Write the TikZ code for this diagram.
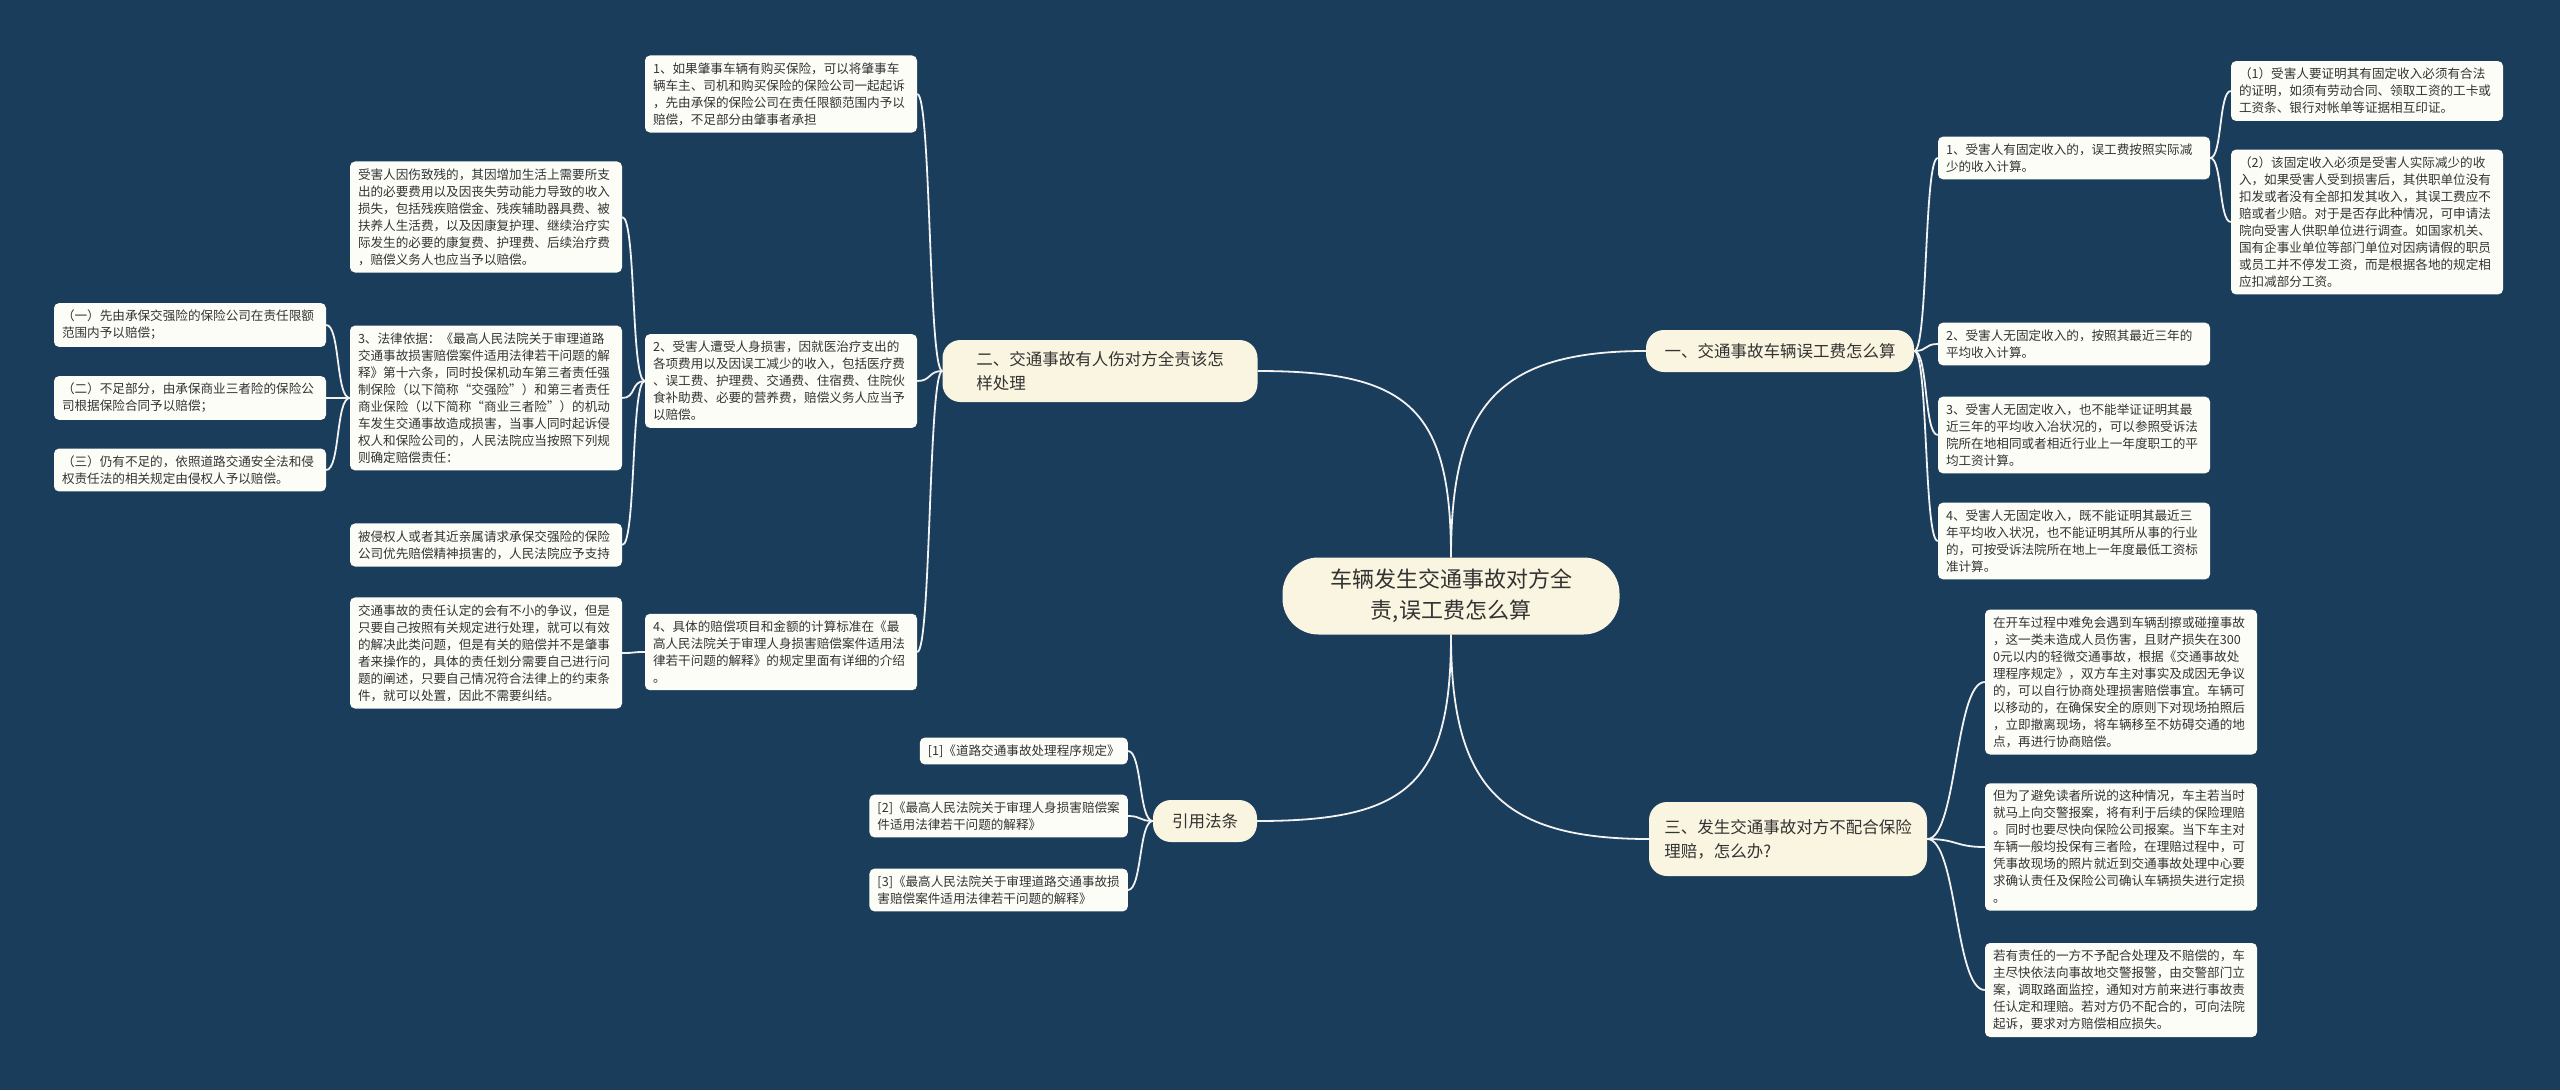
\documentclass[tikz,border=0pt]{standalone}
\usepackage{fontspec}
\setmainfont{Noto Sans CJK SC}
\usepackage{xcolor}
\definecolor{bgblue}{HTML}{1A3D5C}
\definecolor{leaffill}{HTML}{FDFDF8}
\definecolor{mainfill}{HTML}{FAF5E0}
\definecolor{inktext}{HTML}{333333}
\definecolor{linkline}{HTML}{F2F2F2}
\tikzstyle{topic} = [rectangle, rounded corners=36pt, minimum width=337pt, minimum height=77pt, align=center, fill=mainfill, text=inktext, font=\fontsize{22}{31}\selectfont]
\tikzstyle{branch} = [rectangle, rounded corners=18pt, align=left, fill=mainfill, text=inktext, font=\fontsize{16.5}{24}\selectfont]
\tikzstyle{leaf} = [rectangle, rounded corners=5pt, text width=256pt, inner xsep=8pt, inner ysep=7pt, align=left, fill=leaffill, text=inktext, font=\fontsize{12.6}{17}\selectfont]
\tikzstyle{refbox} = [rectangle, rounded corners=5pt, anchor=east, inner xsep=8pt, inner ysep=7pt, align=left, fill=leaffill, text=inktext, font=\fontsize{12.6}{17}\selectfont]
\tikzstyle{link} = [draw=linkline, line width=1.8pt]
\tikzset{swoop/.style={to path={.. controls ([xshift=#1]\tikztostart) and ([xshift={-(#1)}]\tikztotarget) .. (\tikztotarget)}}}

\begin{document}
\begin{tikzpicture}[x=1pt, y=-1pt]

\path [use as bounding box, fill=bgblue] (0,0) rectangle (2560,1090);

% centre and main branches
\node (main) [topic] at (1451,596) {车辆发生交通事故对方全\\责,误工费怎么算};
\node (b1) [branch, minimum width=268pt, minimum height=42pt] at (1780,351) {一、交通事故车辆误工费怎么算};
\node (b2) [branch, minimum width=315pt, minimum height=62pt] at (1100,371) {二、交通事故有人伤对方全责该怎\\样处理};
\node (b3) [branch, minimum width=278pt, minimum height=74pt] at (1788,839) {三、发生交通事故对方不配合保险\\理赔，怎么办?};
\node (b4) [branch, minimum width=104pt, minimum height=42pt] at (1205,821) {引用法条};

% branch one
\node (r1) [leaf] at (2074,158) {1、受害人有固定收入的，误工费按照实际减\\少的收入计算。};
\node (r1a) [leaf] at (2367,91) {（1）受害人要证明其有固定收入必须有合法\\的证明，如须有劳动合同、领取工资的工卡或\\工资条、银行对帐单等证据相互印证。};
\node (r1b) [leaf] at (2367,222) {（2）该固定收入必须是受害人实际减少的收\\入，如果受害人受到损害后，其供职单位没有\\扣发或者没有全部扣发其收入，其误工费应不\\赔或者少赔。对于是否存此种情况，可申请法\\院向受害人供职单位进行调查。如国家机关、\\国有企事业单位等部门单位对因病请假的职员\\或员工并不停发工资，而是根据各地的规定相\\应扣减部分工资。};
\node (r2) [leaf] at (2074,344) {2、受害人无固定收入的，按照其最近三年的\\平均收入计算。};
\node (r3) [leaf] at (2074,435) {3、受害人无固定收入，也不能举证证明其最\\近三年的平均收入冶状况的，可以参照受诉法\\院所在地相同或者相近行业上一年度职工的平\\均工资计算。};
\node (r4) [leaf] at (2074,541) {4、受害人无固定收入，既不能证明其最近三\\年平均收入状况，也不能证明其所从事的行业\\的，可按受诉法院所在地上一年度最低工资标\\准计算。};

% branch two
\node (l1) [leaf] at (781,94) {1、如果肇事车辆有购买保险，可以将肇事车\\辆车主、司机和购买保险的保险公司一起起诉\\，先由承保的保险公司在责任限额范围内予以\\赔偿，不足部分由肇事者承担};
\node (l2) [leaf] at (781,381) {2、受害人遭受人身损害，因就医治疗支出的\\各项费用以及因误工减少的收入，包括医疗费\\、误工费、护理费、交通费、住宿费、住院伙\\食补助费、必要的营养费，赔偿义务人应当予\\以赔偿。};
\node (l4) [leaf] at (781,652) {4、具体的赔偿项目和金额的计算标准在《最\\高人民法院关于审理人身损害赔偿案件适用法\\律若干问题的解释》的规定里面有详细的介绍\\。};
\node (l2a) [leaf] at (486,217) {受害人因伤致残的，其因增加生活上需要所支\\出的必要费用以及因丧失劳动能力导致的收入\\损失，包括残疾赔偿金、残疾辅助器具费、被\\扶养人生活费，以及因康复护理、继续治疗实\\际发生的必要的康复费、护理费、后续治疗费\\，赔偿义务人也应当予以赔偿。};
\node (l2b) [leaf] at (486,398) {3、法律依据：《最高人民法院关于审理道路\\交通事故损害赔偿案件适用法律若干问题的解\\释》第十六条，同时投保机动车第三者责任强\\制保险（以下简称“交强险”）和第三者责任\\商业保险（以下简称“商业三者险”）的机动\\车发生交通事故造成损害，当事人同时起诉侵\\权人和保险公司的，人民法院应当按照下列规\\则确定赔偿责任：};
\node (l2c) [leaf] at (486,545) {被侵权人或者其近亲属请求承保交强险的保险\\公司优先赔偿精神损害的，人民法院应予支持};
\node (l4a) [leaf] at (486,653) {交通事故的责任认定的会有不小的争议，但是\\只要自己按照有关规定进行处理，就可以有效\\的解决此类问题，但是有关的赔偿并不是肇事\\者来操作的，具体的责任划分需要自己进行问\\题的阐述，只要自己情况符合法律上的约束条\\件，就可以处置，因此不需要纠结。};
\node (l3a) [leaf] at (190,325) {（一）先由承保交强险的保险公司在责任限额\\范围内予以赔偿；};
\node (l3b) [leaf] at (190,398) {（二）不足部分，由承保商业三者险的保险公\\司根据保险合同予以赔偿；};
\node (l3c) [leaf] at (190,470) {（三）仍有不足的，依照道路交通安全法和侵\\权责任法的相关规定由侵权人予以赔偿。};

% branch three
\node (t1) [leaf] at (2121,682) {在开车过程中难免会遇到车辆刮擦或碰撞事故\\，这一类未造成人员伤害，且财产损失在300\\0元以内的轻微交通事故，根据《交通事故处\\理程序规定》，双方车主对事实及成因无争议\\的，可以自行协商处理损害赔偿事宜。车辆可\\以移动的，在确保安全的原则下对现场拍照后\\，立即撤离现场，将车辆移至不妨碍交通的地\\点，再进行协商赔偿。};
\node (t2) [leaf] at (2121,847) {但为了避免读者所说的这种情况，车主若当时\\就马上向交警报案，将有利于后续的保险理赔\\。同时也要尽快向保险公司报案。当下车主对\\车辆一般均投保有三者险，在理赔过程中，可\\凭事故现场的照片就近到交通事故处理中心要\\求确认责任及保险公司确认车辆损失进行定损\\。};
\node (t3) [leaf] at (2121,990) {若有责任的一方不予配合处理及不赔偿的，车\\主尽快依法向事故地交警报警，由交警部门立\\案，调取路面监控，通知对方前来进行事故责\\任认定和理赔。若对方仍不配合的，可向法院\\起诉，要求对方赔偿相应损失。};

% references
\node (ref1) [refbox] at (1128,751) {[1]《道路交通事故处理程序规定》};
\node (ref2) [refbox] at (1128,816) {[2]《最高人民法院关于审理人身损害赔偿案\\件适用法律若干问题的解释》};
\node (ref3) [refbox] at (1128,890) {[3]《最高人民法院关于审理道路交通事故损\\害赔偿案件适用法律若干问题的解释》};

% connectors
\draw [link] (main.north) .. controls +(0,-150) and +(-150,0) .. (b1.west);
\draw [link] (main.north) .. controls +(0,-150) and +(150,0) .. (b2.east);
\draw [link] (main.south) .. controls +(0,150) and +(-150,0) .. (b3.west);
\draw [link] (main.south) .. controls +(0,150) and +(150,0) .. (b4.east);
\foreach \n in {r1,r2,r3,r4}
  \draw [link] (b1.east) to[swoop=14] (\n.west);
\foreach \n in {r1a,r1b}
  \draw [link] (r1.east) to[swoop=12] (\n.west);
\foreach \n in {l1,l2,l4}
  \draw [link] (b2.west) to[swoop=-14] (\n.east);
\foreach \n in {l2a,l2b,l2c}
  \draw [link] (l2.west) to[swoop=-14] (\n.east);
\foreach \n in {l3a,l3b,l3c}
  \draw [link] (l2b.west) to[swoop=-14] (\n.east);
\draw [link] (l4.west) to[swoop=-14] (l4a.east);
\foreach \n in {t1,t2,t3}
  \draw [link] (b3.east) to[swoop=30] (\n.west);
\foreach \n in {ref1,ref2,ref3}
  \draw [link] (b4.west) to[swoop=-14] (\n.east);

\end{tikzpicture}
\end{document}
